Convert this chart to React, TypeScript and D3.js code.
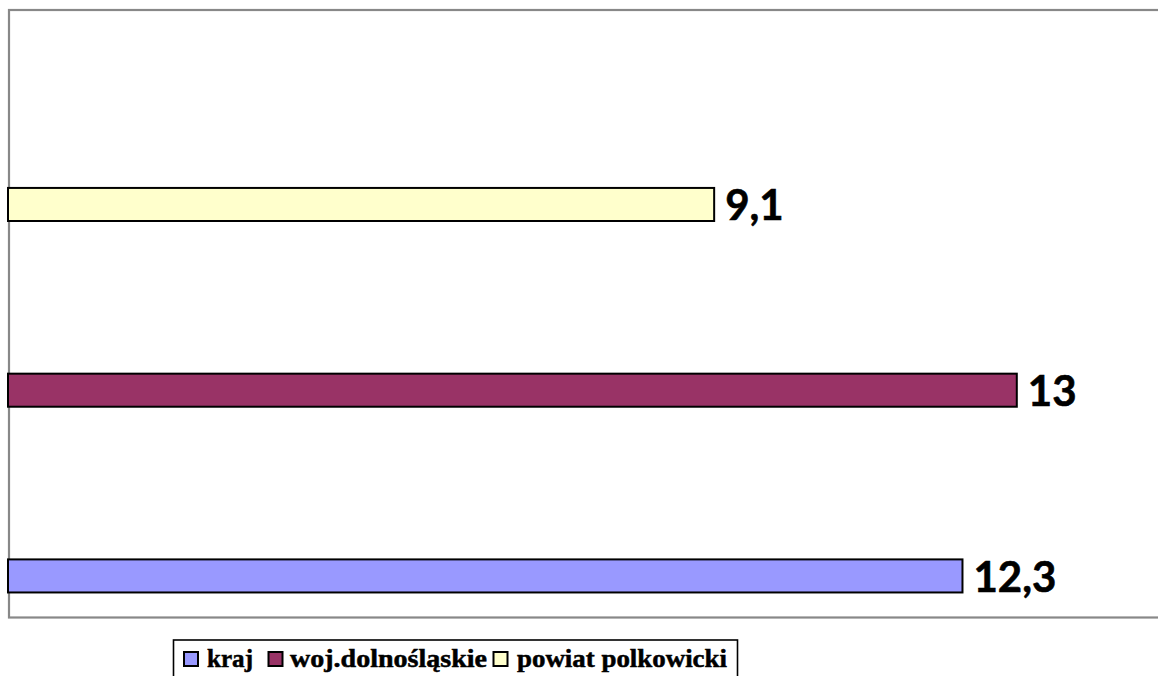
import { useRef, useEffect } from "react";
import { select, scaleLinear, scaleBand } from "d3";

// series (top to bottom in the plot)
const categories = ["powiat polkowicki", "woj.dolnośląskie", "kraj"];
const values = [9.1, 13, 12.3];
const valueLabels = ["9,1", "13", "12,3"];
const colors = ["#FFFFCC", "#993366", "#9999FF"];

// legend order
const legendNames = ["kraj", "woj.dolnośląskie", "powiat polkowicki"];
const legendColors = ["#9999FF", "#993366", "#FFFFCC"];

const W = 1158;
const H = 676;

const App = () => {
  const ref = useRef<SVGSVGElement>(null);

  useEffect(() => {
    if (!ref.current) return;
    const svg = select(ref.current);
    svg.selectAll("*").remove();

    const x = scaleLinear().domain([0, 15]).range([8, 8 + 15 * 77.6]);
    const y = scaleBand<string>()
      .domain(categories)
      .range([111.6, 668.8])
      .paddingInner(0.822)
      .paddingOuter(0.411);

    // plot area border
    svg
      .append("rect")
      .attr("x", 9)
      .attr("y", 10)
      .attr("width", 1300)
      .attr("height", 607.5)
      .attr("fill", "#fff")
      .attr("stroke", "#888")
      .attr("stroke-width", 2.2);

    // bars
    svg
      .selectAll("rect.bar")
      .data(categories)
      .enter()
      .append("rect")
      .classed("bar", true)
      .attr("x", x(0))
      .attr("y", (d) => y(d)!)
      .attr("width", (_d, i) => x(values[i]) - x(0))
      .attr("height", y.bandwidth())
      .attr("fill", (_d, i) => colors[i])
      .attr("stroke", "#000")
      .attr("stroke-width", 2);

    // value labels
    svg
      .selectAll("text.val")
      .data(categories)
      .enter()
      .append("text")
      .classed("val", true)
      .attr("x", (_d, i) => x(values[i]) + 11)
      .attr("y", (d) => y(d)! + y.bandwidth() / 2 + 16)
      .attr("font-family", "Lato, 'Open Sans', sans-serif")
      .attr("font-weight", "bold")
      .attr("font-size", 42)
      .attr("stroke", "#000")
      .attr("stroke-width", 0.6)
      .attr("fill", "#000")
      .text((_d, i) => valueLabels[i]);

    // legend
    const lg = svg.append("g");
    lg.append("rect")
      .attr("x", 173.5)
      .attr("y", 640)
      .attr("width", 564)
      .attr("height", 60)
      .attr("fill", "#fff")
      .attr("stroke", "#000")
      .attr("stroke-width", 1.6);

    const squareX = [184, 268.5, 493.5];
    const textX = [207, 290, 517];
    const textW = [46, 197, 210];
    legendNames.forEach((name, i) => {
      lg.append("rect")
        .attr("x", squareX[i])
        .attr("y", 652)
        .attr("width", 14)
        .attr("height", 14)
        .attr("fill", legendColors[i])
        .attr("stroke", "#000")
        .attr("stroke-width", 2);
      lg.append("text")
        .attr("x", textX[i])
        .attr("y", 666.5)
        .attr("font-family", "'Liberation Serif', 'Times New Roman', serif")
        .attr("font-weight", "bold")
        .attr("font-size", 25)
        .attr("textLength", textW[i])
        .attr("lengthAdjust", "spacingAndGlyphs")
        .attr("stroke", "#000")
        .attr("stroke-width", 0.5)
        .attr("fill", "#000")
        .text(name);
    });
  }, []);

  return (
    <svg
      ref={ref}
      width={W}
      height={H}
      viewBox={`0 0 ${W} ${H}`}
      style={{ position: "absolute", left: 0, top: 0, display: "block", background: "#fff" }}
    />
  );
};

export default App;
